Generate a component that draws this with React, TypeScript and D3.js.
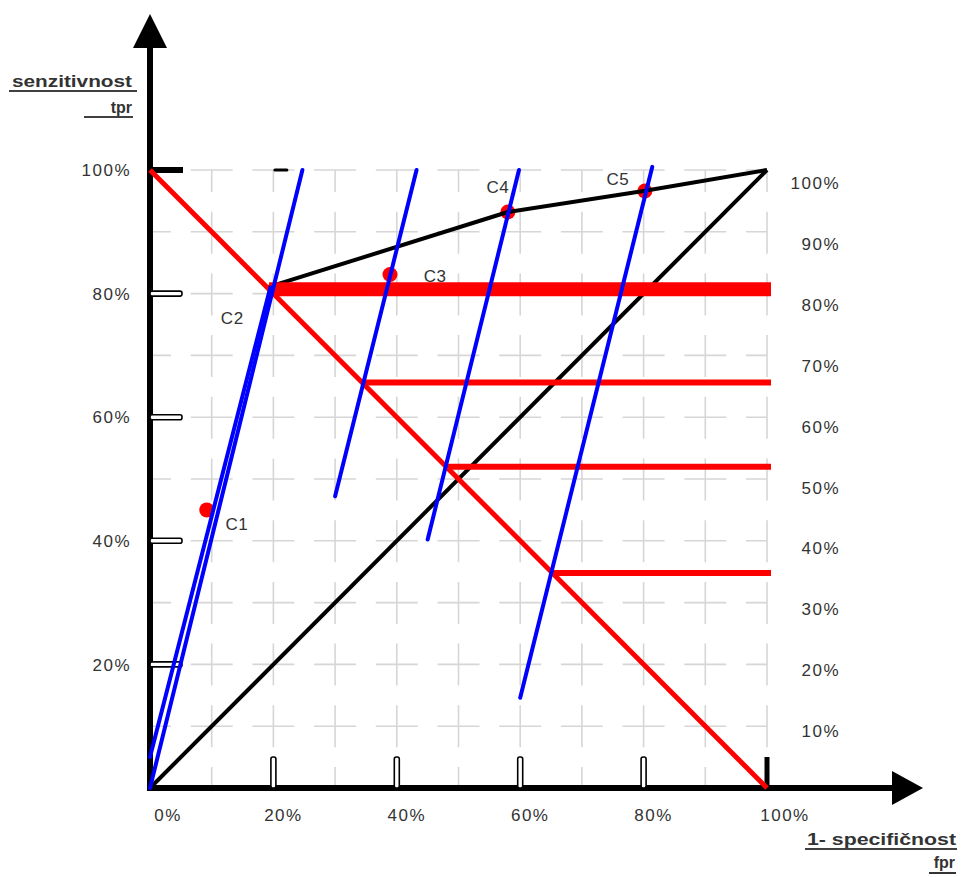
import React from "react";
import * as d3 from "d3";

// ---- data ----
const xTickValues = [0, 0.2, 0.4, 0.6, 0.8, 1.0];
const xTickLabels = ["0%", "20%", "40%", "60%", "80%", "100%"];
const yTickValues = [0.2, 0.4, 0.6, 0.8, 1.0];
const yTickLabels = ["20%", "40%", "60%", "80%", "100%"];
const rightValues = [1.0, 0.9, 0.8, 0.7, 0.6, 0.5, 0.4, 0.3, 0.2, 0.1];
const rightLabels = ["100%", "90%", "80%", "70%", "60%", "50%", "40%", "30%", "20%", "10%"];
const gridValues = [0.1, 0.2, 0.3, 0.4, 0.5, 0.6, 0.7, 0.8, 0.9, 1.0];

// ROC curve (black)
const rocFpr = [0.19, 0.58, 0.8, 1.0];
const rocTpr = [0.81, 0.932, 0.966, 1.0];

// classifier points
const pointNames = ["C1", "C2", "C3", "C4", "C5"];
const pointFpr = [0.092, 0.19, 0.389, 0.58, 0.802];
const pointTpr = [0.45, 0.81, 0.831, 0.932, 0.966];
const pointShown = [true, false, true, true, true];

// iso-performance lines (blue): start/end
const isoX1 = [0, 0, 0.3, 0.45, 0.6];
const isoY1 = [0, 0.05, 0.472, 0.402, 0.146];
const isoX2 = [0.247, 0.195, 0.432, 0.598, 0.814];
const isoY2 = [1.0, 0.81, 1.0, 1.0, 1.005];

// red horizontal levels
const redLevels = [0.807, 0.656, 0.52, 0.348];

const FONT = "Arial, 'Liberation Sans', Helvetica, sans-serif";

export default function App() {
  const x = d3.scaleLinear().domain([0, 1]).range([150, 767]);
  const y = d3.scaleLinear().domain([0, 1]).range([788, 170]);
  const yR = d3.scaleLinear().domain([0.1, 1]).range([731, 183]);
  const line = d3
    .line<[number, number]>()
    .x((d) => x(d[0]))
    .y((d) => y(d[1]));

  const labelOffsets: [number, number][] = [
    [30, 14],
    [-35, 30],
    [45, 1],
    [-10, -25],
    [-27, -12],
  ];
  const redWidths = [14, 6, 6, 6];

  const period = x(0.1) - x(0);
  const dash = 42;
  const gap = period - dash;
  const gridStyle = {
    stroke: "#d6d6d6",
    strokeWidth: 1.6,
    strokeDasharray: `${dash} ${gap}`,
    strokeDashoffset: dash / 2,
  };

  return (
    <svg
      width={972}
      height={877}
      style={{ position: "absolute", left: 0, top: 0, background: "#fff" }}
      fontFamily={FONT}
    >
      {/* grid */}
      <g>
        {gridValues.map((v) => (
          <line key={"gv" + v} x1={x(v)} x2={x(v)} y1={y(0)} y2={y(1)} style={gridStyle} />
        ))}
        {gridValues.map((v) => (
          <line key={"gh" + v} x1={x(0)} x2={x(1)} y1={y(v)} y2={y(v)} style={gridStyle} />
        ))}
      </g>

      {/* axes */}
      <line x1={x(0)} x2={x(0)} y1={y(0) + 3} y2={46} stroke="#000" strokeWidth={6} />
      <polygon points={`${x(0)},14 ${x(0) - 17},48 ${x(0) + 17},48`} fill="#000" />
      <line x1={x(0) - 3} x2={895} y1={y(0)} y2={y(0)} stroke="#000" strokeWidth={6} />
      <polygon points={`923,${y(0)} 892,${y(0) - 17} 892,${y(0) + 17}`} fill="#000" />

      {/* y ticks */}
      {yTickValues.map((v) =>
        v === 1 ? (
          <rect key={"yt" + v} x={x(0)} y={y(v) - 3} width={33} height={6} fill="#000" />
        ) : (
          <rect
            key={"yt" + v}
            x={x(0)}
            y={y(v) - 2.5}
            width={32}
            height={5}
            rx={2}
            fill="#fff"
            stroke="#000"
            strokeWidth={1.6}
          />
        )
      )}
      <rect x={x(0.2)} y={y(1) - 1.5} width={15} height={3} rx={1.5} fill="#000" />

      {/* x ticks */}
      {xTickValues
        .filter((v) => v > 0)
        .map((v) =>
          v === 1 ? (
            <rect key={"xt" + v} x={x(v) - 2.5} y={y(0) - 31} width={5} height={31} fill="#000" />
          ) : (
            <rect
              key={"xt" + v}
              x={x(v) - 2.5}
              y={y(0) - 31}
              width={5}
              height={31}
              rx={2}
              fill="#fff"
              stroke="#000"
              strokeWidth={1.6}
            />
          )
        )}

      {/* tick labels */}
      {yTickValues.map((v, i) => (
        <text
          key={"yl" + v}
          x={131}
          y={y(v)}
          dy="0.36em"
          textAnchor="end"
          fontSize={17}
          letterSpacing={1.5}
          fill="#333"
        >
          {yTickLabels[i]}
        </text>
      ))}
      {xTickValues.map((v, i) => (
        <text
          key={"xl" + v}
          x={x(v) + (i === 0 || i === 5 ? 18 : 10)}
          y={y(0) + 27}
          dy="0.36em"
          textAnchor="middle"
          fontSize={17}
          letterSpacing={1.5}
          fill="#333"
        >
          {xTickLabels[i]}
        </text>
      ))}
      {rightValues.map((v, i) => (
        <text
          key={"rl" + v}
          x={840}
          y={yR(v)}
          dy="0.36em"
          textAnchor="end"
          fontSize={17}
          letterSpacing={1.5}
          fill="#333"
        >
          {rightLabels[i]}
        </text>
      ))}

      {/* axis titles */}
      <text x={12} y={87} fontSize={16} fontWeight="bold" fill="#333" textLength={120} lengthAdjust="spacingAndGlyphs">
        senzitivnost
      </text>
      <line x1={9} x2={137} y1={91} y2={91} stroke="#000" strokeWidth={1.6} />
      <text x={132} y={113} fontSize={16} fontWeight="bold" fill="#333" textAnchor="end">
        tpr
      </text>
      <line x1={84} x2={133} y1={117} y2={117} stroke="#000" strokeWidth={1.6} />

      <text x={807} y={845} fontSize={16} fontWeight="bold" fill="#333" textLength={149} lengthAdjust="spacingAndGlyphs">
        1- specifičnost
      </text>
      <line x1={805} x2={957} y1={849} y2={849} stroke="#000" strokeWidth={1.6} />
      <text x={955} y={868} fontSize={16} fontWeight="bold" fill="#333" textAnchor="end">
        fpr
      </text>
      <line x1={929} x2={956} y1={873} y2={873} stroke="#000" strokeWidth={1.6} />

      {/* red dots */}
      {pointNames.map((n, i) =>
        pointShown[i] ? (
          <circle key={"pt" + n} cx={x(pointFpr[i])} cy={y(pointTpr[i])} r={7.5} fill="#ff0000" />
        ) : null
      )}

      {/* black lines */}
      <path d={line([[0, 0], [1, 1]]) || ""} stroke="#000" strokeWidth={4} fill="none" />
      <path
        d={line(rocFpr.map((f, i) => [f, rocTpr[i]] as [number, number])) || ""}
        stroke="#000"
        strokeWidth={4}
        fill="none"
        strokeLinejoin="round"
      />

      {/* red lines */}
      <path d={line([[0, 1], [1, 0]]) || ""} stroke="#ff0000" strokeWidth={5} fill="none" />
      {redLevels.map((v, i) => (
        <line
          key={"rh" + v}
          x1={x(1 - v)}
          x2={x(1) + 4}
          y1={y(v)}
          y2={y(v)}
          stroke="#ff0000"
          strokeWidth={redWidths[i]}
        />
      ))}

      {/* blue iso lines */}
      {isoX1.map((_, i) => (
        <line
          key={"iso" + i}
          x1={x(isoX1[i])}
          y1={y(isoY1[i])}
          x2={x(isoX2[i])}
          y2={y(isoY2[i])}
          stroke="#0000ff"
          strokeWidth={4}
          strokeLinecap="round"
        />
      ))}

      {/* point labels */}
      {pointNames.map((n, i) => (
        <text
          key={"lab" + n}
          x={x(pointFpr[i]) + labelOffsets[i][0]}
          y={y(pointTpr[i]) + labelOffsets[i][1]}
          dy="0.36em"
          textAnchor="middle"
          fontSize={17}
          letterSpacing={0.5}
          fill="#333"
        >
          {n}
        </text>
      ))}
    </svg>
  );
}
